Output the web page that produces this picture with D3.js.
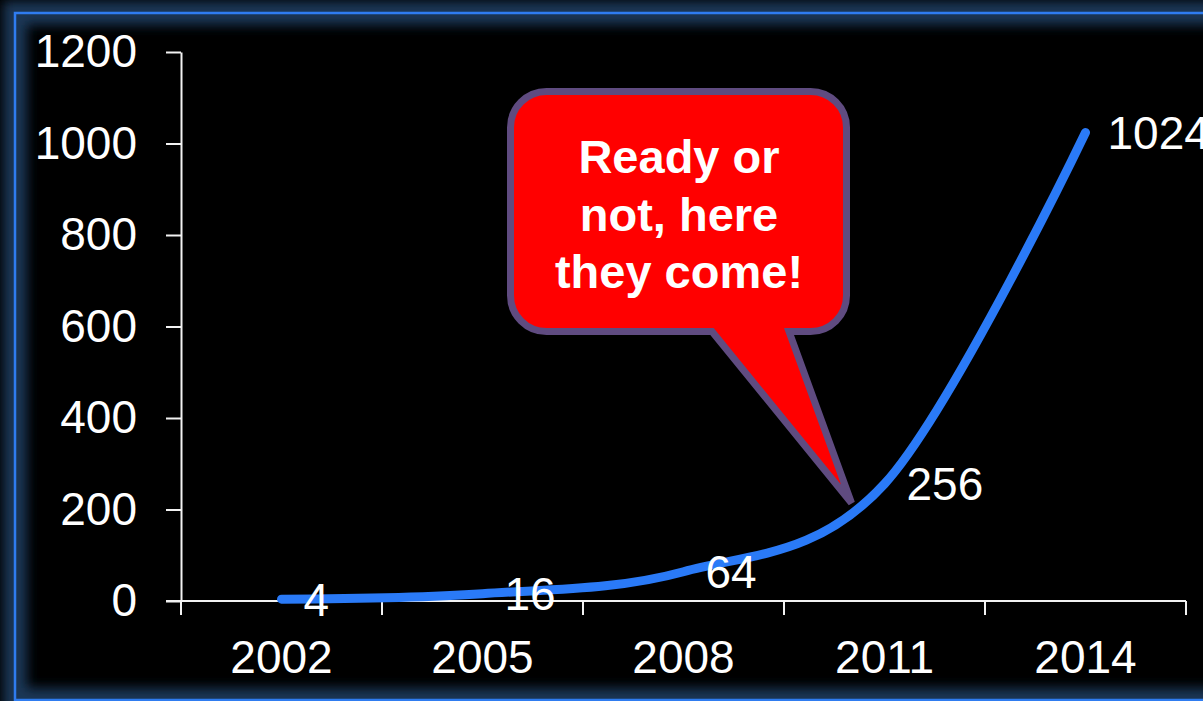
<!DOCTYPE html>
<html>
<head>
<meta charset="utf-8">
<script src="https://cdn.jsdelivr.net/npm/d3@7"></script>
<style>
  html, body { margin: 0; padding: 0; background: #000; }
  svg { display: block; }
  text { font-family: "Liberation Sans", Arial, sans-serif; }
</style>
</head>
<body>
<svg id="chart" width="1203" height="701"></svg>
<script>
// Chart data
const years = ["2002", "2005", "2008", "2011", "2014"];
const counts = [4, 16, 64, 256, 1024];
const yTicks = [0, 200, 400, 600, 800, 1000, 1200];
const calloutLines = ["Ready or", "not, here", "they come!"];

(function draw() {
  const W = 1203, H = 701;
  const svg = d3.select("#chart");

  // Frame: black panel with a soft blue glow and a thin blue edge
  const defs = svg.append("defs");
  defs.append("filter").attr("id", "glow")
    .attr("x", "-10%").attr("y", "-10%").attr("width", "120%").attr("height", "120%")
    .append("feGaussianBlur").attr("stdDeviation", 6);

  svg.append("rect").attr("width", W).attr("height", H).attr("fill", "#000");
  svg.append("rect")
    .attr("x", 15).attr("y", 13).attr("width", W + 40).attr("height", 687)
    .attr("fill", "none").attr("stroke", "#24456c").attr("stroke-width", 24)
    .attr("filter", "url(#glow)").attr("opacity", 0.8);
  svg.append("rect")
    .attr("x", 15).attr("y", 13).attr("width", W + 40).attr("height", 687)
    .attr("fill", "none").attr("stroke", "#2f7cf0").attr("stroke-width", 2.5);

  // Plot area
  const plotLeft = 181, plotRight = 1186, plotTop = 52, plotBottom = 601;

  const x = d3.scaleBand().domain(years).range([plotLeft, plotRight]).padding(0);
  const y = d3.scaleLinear().domain([0, 1200]).range([plotBottom, plotTop]);
  const cx = d => x(d) + x.bandwidth() / 2;

  const axisColor = "#f2f2f2";

  // Y axis
  const yAxis = svg.append("g")
    .attr("transform", `translate(${plotLeft},0)`)
    .call(d3.axisLeft(y).tickValues(yTicks).tickFormat(d3.format("d"))
      .tickSize(15).tickPadding(29).tickSizeOuter(0));
  yAxis.select(".domain").attr("stroke", axisColor).attr("stroke-width", 2);
  yAxis.selectAll(".tick line").attr("stroke", axisColor).attr("stroke-width", 2);
  yAxis.selectAll(".tick text")
    .attr("fill", "#fff").style("font-size", "46px")
    .style("font-family", "'Liberation Sans', Arial, sans-serif");

  // X axis: labels centred in each category, ticks on category boundaries
  const xAxis = svg.append("g")
    .attr("transform", `translate(0,${plotBottom})`)
    .call(d3.axisBottom(x).tickSize(0).tickPadding(39).tickSizeOuter(0));
  xAxis.select(".domain").remove();
  xAxis.selectAll(".tick text")
    .attr("fill", "#fff").style("font-size", "46px")
    .style("font-family", "'Liberation Sans', Arial, sans-serif");

  svg.append("line")
    .attr("x1", plotLeft - 15).attr("x2", plotRight)
    .attr("y1", plotBottom).attr("y2", plotBottom)
    .attr("stroke", axisColor).attr("stroke-width", 2);

  const boundaries = years.map(d => x(d)).concat([x.range()[1]]);
  svg.append("g").selectAll("line").data(boundaries).join("line")
    .attr("x1", d => d).attr("x2", d => d)
    .attr("y1", plotBottom).attr("y2", plotBottom + 14)
    .attr("stroke", axisColor).attr("stroke-width", 2);

  // Smoothed series line
  const pts = years.map((d, i) => ({ year: d, value: counts[i] }));
  const line = d3.line()
    .x(d => cx(d.year))
    .y(d => y(d.value))
    .curve(d3.curveCatmullRom.alpha(0));

  svg.append("path")
    .datum(pts)
    .attr("d", line)
    .attr("fill", "none")
    .attr("stroke", "#2a7af7")
    .attr("stroke-width", 9)
    .attr("stroke-linecap", "round")
    .attr("stroke-linejoin", "round");

  // Value labels to the right of each point
  svg.append("g").selectAll("text").data(pts).join("text")
    .attr("x", d => cx(d.year) + 22)
    .attr("y", d => y(d.value))
    .attr("dy", "0.36em")
    .attr("fill", "#fff")
    .style("font-size", "46px")
    .text(d => d.value);

  // Speech-bubble callout pointing at the steep part of the curve
  const bx0 = 510.5, bx1 = 846.5, by0 = 91.5, by1 = 331.5, r = 36;
  const tailL = 712, tailR = 789;
  const tipX = cx("2011") - 33, tipY = 503;
  const bubble = d3.path();
  bubble.moveTo(bx0 + r, by0);
  bubble.lineTo(bx1 - r, by0);
  bubble.arcTo(bx1, by0, bx1, by0 + r, r);
  bubble.lineTo(bx1, by1 - r);
  bubble.arcTo(bx1, by1, bx1 - r, by1, r);
  bubble.lineTo(tailR, by1);
  bubble.lineTo(tipX, tipY);
  bubble.lineTo(tailL, by1);
  bubble.lineTo(bx0 + r, by1);
  bubble.arcTo(bx0, by1, bx0, by1 - r, r);
  bubble.lineTo(bx0, by0 + r);
  bubble.arcTo(bx0, by0, bx0 + r, by0, r);
  bubble.closePath();

  svg.append("path")
    .attr("d", bubble.toString())
    .attr("fill", "#ff0000")
    .attr("stroke", "#5f4b80")
    .attr("stroke-width", 7)
    .attr("stroke-linejoin", "miter");

  svg.append("g").selectAll("text").data(calloutLines).join("text")
    .attr("x", 679)
    .attr("y", (d, i) => 173 + i * 57.5)
    .attr("text-anchor", "middle")
    .attr("fill", "#fff")
    .style("font-size", "47px")
    .style("font-weight", "bold")
    .text(d => d);
})();
</script>
</body>
</html>
